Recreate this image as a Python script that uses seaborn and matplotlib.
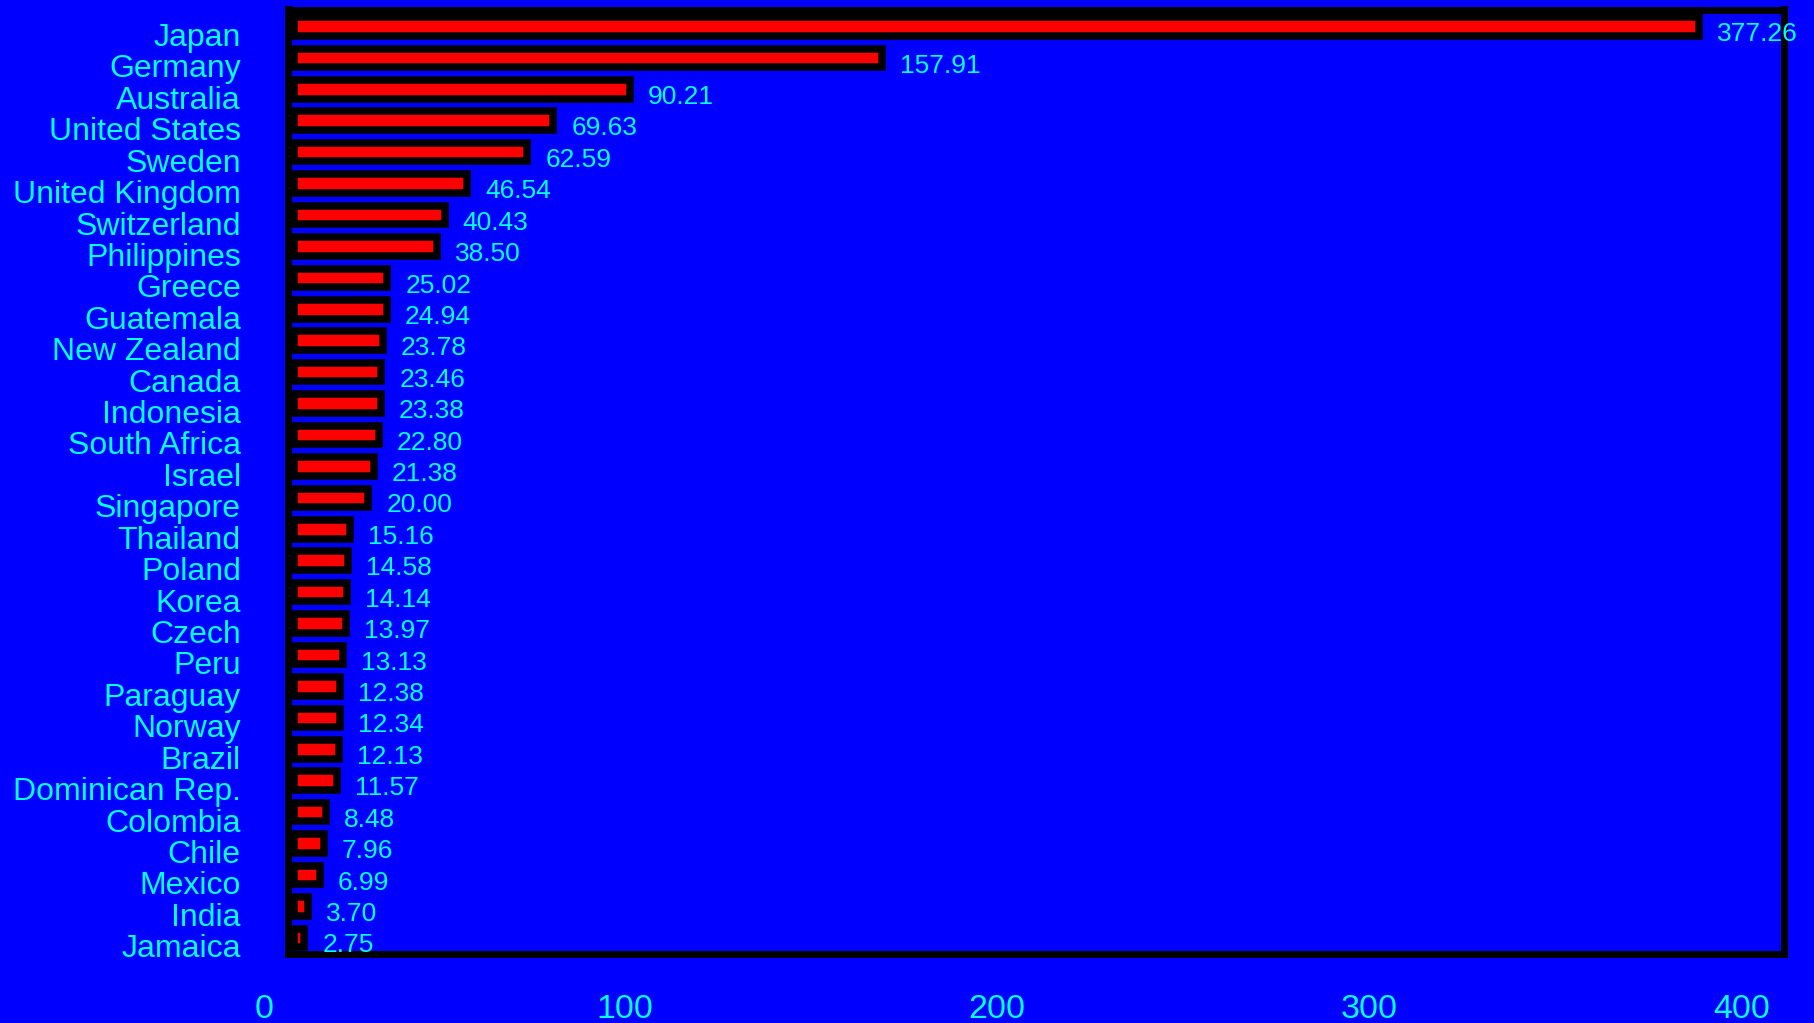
import matplotlib
matplotlib.use('Agg')
import matplotlib.pyplot as plt
import matplotlib.transforms as mtransforms
import seaborn as sns
import pandas as pd

# values
countries = ['Japan', 'Germany', 'Australia', 'United States', 'Sweden', 'United Kingdom',
             'Switzerland', 'Philippines', 'Greece', 'Guatemala', 'New Zealand', 'Canada',
             'Indonesia', 'South Africa', 'Israel', 'Singapore', 'Thailand', 'Poland', 'Korea',
             'Czech', 'Peru', 'Paraguay', 'Norway', 'Brazil', 'Dominican Rep.', 'Colombia',
             'Chile', 'Mexico', 'India', 'Jamaica']
values = [377.26, 157.91, 90.21, 69.63, 62.59, 46.54, 40.43, 38.50, 25.02, 24.94, 23.78, 23.46,
          23.38, 22.80, 21.38, 20.00, 15.16, 14.58, 14.14, 13.97, 13.13, 12.38, 12.34, 12.13,
          11.57, 8.48, 7.96, 6.99, 3.70, 2.75]
xticks = [0, 100, 200, 300, 400]

df = pd.DataFrame({'country': countries, 'value': values})

bg = '#0000ff'
fg = '#00ffff'

sns.set_style('white')
plt.rcParams['font.family'] = ['Liberation Sans', 'DejaVu Sans']

W, H = 1814, 1023
fig = plt.figure(figsize=(W / 100, H / 100), dpi=100, facecolor=bg)
ax = fig.add_axes([288 / W, 69.5 / H, (1784 - 288) / W, (953.5 - 9.5) / H])
ax.set_facecolor(bg)

sns.barplot(data=df, x='value', y='country', orient='h', color='red', saturation=1,
            edgecolor='black', linewidth=5.4, width=0.59, ax=ax)

ax.set_xlim(-1.6, 400)
ax.set_ylim(len(countries) - 0.5, -0.54)
ax.set_xlabel('')
ax.set_ylabel('')

for s in ax.spines.values():
    s.set_color('black')
    s.set_linewidth(5)

ax.set_xticks(xticks)
ax.set_xticklabels([str(t) for t in xticks])
ax.tick_params(axis='x', length=0, pad=29, labelsize=24.5, labelcolor=fg)
ax.tick_params(axis='y', length=0, pad=34, labelsize=23, labelcolor=fg)

# shift labels like in the reference
for i, lbl in enumerate(ax.get_xticklabels()):
    dx = -0.30 if i == 0 else -0.42
    lbl.set_transform(lbl.get_transform() + mtransforms.ScaledTranslation(dx, 0, fig.dpi_scale_trans))
for lbl in ax.get_yticklabels():
    lbl.set_transform(lbl.get_transform() + mtransforms.ScaledTranslation(0, -0.08, fig.dpi_scale_trans))

for c in ax.containers:
    lbls = ax.bar_label(c, fmt='%.2f', padding=13, color=fg, fontsize=19)
    for t in lbls:
        t.set_va('center')
        t.xyann = (13, -5.5)

fig.savefig('out.png', dpi=100, facecolor=bg)
